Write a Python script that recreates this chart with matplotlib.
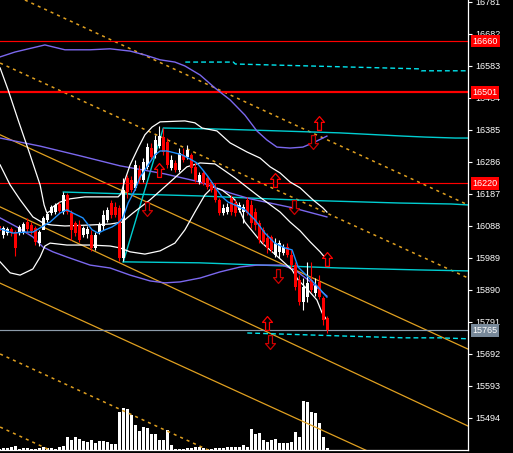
import matplotlib
matplotlib.use("Agg")
import matplotlib.pyplot as plt
from matplotlib.path import Path

plt.rcParams['font.family'] = ['Liberation Sans', 'DejaVu Sans']
plt.rcParams['lines.scale_dashes'] = False

# candles (bar -1 is the half hidden one at the left border)
bars = list(range(-1, 82))
opens = [16088, 16060, 16066, 16079, 16069, 16066, 16069, 16100, 16091, 16082,
         16035, 16076, 16107, 16128, 16131, 16156, 16131, 16184, 16128, 16097,
         16091, 16060, 16063, 16060, 16020, 16069, 16088, 16107, 16159, 16147,
         16144, 15989, 16236, 16230, 16206, 16261, 16230, 16271, 16329, 16308,
         16336, 16363, 16348, 16267, 16283, 16261, 16308, 16301, 16308, 16271,
         16224, 16252, 16236, 16224, 16209, 16168, 16128, 16131, 16175, 16159,
         16138, 16131, 16168, 16153, 16131, 16097, 16076, 16051, 16054, 15998,
         16007, 16004, 16023, 15998, 15967, 15921, 15853, 15868, 15921, 15881,
         15915, 15865, 15803]
closes = [16072, 16082, 16079, 16066, 16020, 16085, 16094, 16079, 16072, 16038,
          16069, 16113, 16125, 16147, 16153, 16134, 16184, 16131, 16076, 16066,
          16045, 16082, 16079, 16020, 16060, 16091, 16122, 16138, 16122, 16122,
          15989, 16199, 16193, 16199, 16277, 16230, 16286, 16332, 16301, 16354,
          16366, 16317, 16277, 16292, 16261, 16314, 16292, 16323, 16267, 16230,
          16246, 16221, 16209, 16199, 16168, 16128, 16144, 16147, 16131, 16128,
          16153, 16147, 16128, 16097, 16091, 16045, 16038, 16020, 16014, 16035,
          16035, 16023, 15998, 15967, 15899, 15853, 15899, 15912, 15890, 15902,
          15868, 15797, 15765]
highs = [16094, 16088, 16085, 16085, 16076, 16091, 16100, 16113, 16100, 16088,
         16076, 16119, 16131, 16153, 16159, 16162, 16193, 16190, 16138, 16103,
         16107, 16088, 16088, 16076, 16069, 16100, 16138, 16147, 16168, 16162,
         16153, 16236, 16246, 16243, 16292, 16277, 16298, 16345, 16345, 16369,
         16397, 16391, 16360, 16308, 16292, 16329, 16329, 16339, 16314, 16283,
         16255, 16261, 16246, 16230, 16221, 16175, 16156, 16159, 16184, 16168,
         16162, 16156, 16178, 16168, 16144, 16107, 16085, 16066, 16060, 16051,
         16045, 16032, 16035, 16014, 15977, 15936, 15927, 15977, 15977, 15927,
         15936, 15871, 15809]
lows = [16066, 16051, 16060, 16057, 15995, 16060, 16063, 16066, 16063, 16029,
        16026, 16085, 16100, 16122, 16125, 16128, 16125, 16125, 16045, 16057,
        16038, 16054, 16051, 16011, 16014, 16063, 16076, 16100, 16113, 16116,
        15980, 15980, 16175, 16193, 16199, 16221, 16224, 16264, 16292, 16298,
        16329, 16308, 16268, 16261, 16255, 16255, 16286, 16295, 16252, 16224,
        16218, 16215, 16202, 16193, 16162, 16122, 16122, 16125, 16122, 16119,
        16131, 16097, 16122, 16082, 16076, 16035, 16032, 16004, 16007, 15992,
        15989, 15998, 15992, 15958, 15890, 15844, 15828, 15853, 15884, 15871,
        15862, 15782, 15757]
volume = [4, 5, 6, 8, 12, 4, 6, 6, 4, 4, 5, 8, 7, 6, 4, 10, 13, 40, 30, 40,
          34, 28, 25, 31, 22, 28, 27, 24, 18, 18, 115, 126, 122, 106, 76, 58,
          70, 65, 49, 47, 31, 31, 60, 16, 4, 4, 2, 5, 5, 10, 10, 6, 4, 4, 6, 6,
          6, 8, 10, 8, 8, 14, 10, 62, 48, 50, 30, 25, 30, 32, 22, 22, 22, 25,
          55, 40, 148, 145, 115, 112, 80, 40, 6]

# fast moving average (blue)
ma_x = [-0.8, 2.4, 5.4, 7.4, 9.2, 11.7, 14.2, 15.9, 17.4, 19.9, 22.2, 23.7, 25.4,
        27.2, 28.7, 29.9, 31.2, 32.9, 34.2, 35.4, 36.7, 37.9, 39.2, 40.9, 42.9,
        44.7, 46.7, 48.4, 49.9, 51.2, 52.9, 54.7, 56.2, 57.9, 60.4, 62.9, 65.4,
        67.9, 70.4, 72.2, 73.7, 76.2, 78.7, 80.9]
ma_y = [16079, 16066, 16069, 16069, 16082, 16100, 16128, 16138, 16128, 16113,
        16076, 16066, 16076, 16085, 16097, 16113, 16159, 16199, 16240, 16261,
        16286, 16308, 16320, 16320, 16314, 16308, 16295, 16283, 16261, 16240,
        16209, 16178, 16162, 16153, 16138, 16107, 16066, 16035, 16020, 16014,
        15961, 15930, 15899, 15868]

# bands, current timeframe (white)
wu_x = [-0.8, 1.2, 3.7, 6.7, 9.2, 10.2, 10.9, 11.7, 12.4, 14.2, 16.7, 20.4,
        28.7, 29.4, 30.4, 31.7, 33.7, 35.4, 37.2, 39.2, 45.4, 47.9, 49.7, 53.4,
        56.7, 60.9, 64.2, 66.7, 69.2, 71.7, 74.2, 77.4, 79.9, 80.9]
wu_y = [16577, 16509, 16416, 16308, 16215, 16153, 16128, 16134, 16147, 16162,
        16172, 16178, 16178, 16187, 16230, 16277, 16329, 16370, 16394, 16410,
        16413, 16407, 16391, 16382, 16345, 16317, 16298, 16271, 16252, 16224,
        16206, 16169, 16144, 16131]
wm_x = [-0.8, 1.7, 4.2, 7.4, 10.4, 12.2, 15.4, 21.7, 26.7, 29.7, 32.4, 36.7,
        40.9, 45.9, 49.2, 52.9, 57.9, 63.4, 69.2, 71.7, 74.2, 76.7, 79.2, 80.9]
wm_y = [16277, 16215, 16169, 16116, 16094, 16091, 16088, 16091, 16094, 16100,
        16128, 16169, 16215, 16271, 16283, 16280, 16237, 16184, 16131, 16100,
        16073, 16039, 16008, 15983]
wl_x = [-0.8, 1.7, 4.2, 7.4, 9.2, 10.4, 11.7, 15.9, 21.7, 26.7, 29.2, 31.7,
        35.4, 39.2, 42.9, 45.4, 47.9, 50.4, 52.4, 54.7, 57.9, 60.4, 64.7, 68.7,
        72.2, 73.7, 76.2, 78.4, 79.7, 80.9]
wl_y = [15977, 15943, 15936, 15955, 15992, 16026, 16035, 16029, 16029, 16026,
        16020, 16008, 16001, 16011, 16035, 16076, 16131, 16184, 16209, 16199,
        16169, 16100, 16035, 15992, 15952, 15921, 15890, 15859, 15819, 15797]

# bands, higher timeframe (purple)
pu_x = [-0.8, 2.9, 10.4, 15.4, 21.7, 26.7, 31.7, 35.4, 39.2, 42.9, 45.4, 49.2,
        52.9, 56.7, 60.4, 63.4, 65.9, 68.4, 71.7, 74.9, 77.4, 80.9]
pu_y = [16611, 16626, 16648, 16633, 16633, 16636, 16629, 16617, 16602, 16595,
        16583, 16555, 16515, 16478, 16431, 16382, 16354, 16332, 16329, 16332,
        16345, 16366]
pm_x = [-0.8, 9.2, 19.2, 29.2, 40.4, 49.2, 56.7, 61.7, 72.4, 80.9]
pm_y = [16360, 16335, 16305, 16274, 16249, 16224, 16190, 16172, 16144, 16116]
pl_x = [-0.8, 3.4, 7.4, 9.9, 12.4, 15.9, 21.7, 26.7, 31.7, 36.7, 40.4, 44.2, 49.2,
        54.2, 59.2, 63.4, 69.7, 72.9, 76.2, 80.9]
pl_y = [16113, 16085, 16054, 16023, 16008, 15992, 15967, 15958, 15936, 15918,
        15912, 15915, 15927, 15946, 15961, 15967, 15967, 15952, 15921, 15871]

# stepped levels (cyan)
c1_x = [30, 40, 53, 69, 84, 100, 105.5, 113, 116.2]
c1_y = [15977, 16391, 16388, 16382, 16376, 16366, 16363, 16360, 16360]
c2_x = [15, 31, 49, 74, 99, 112, 116.2]
c2_y = [16193, 16187, 16181, 16168, 16159, 16156, 16153]
c3_x = [30, 49, 84, 104, 116.2]
c3_y = [15977, 15974, 15958, 15952, 15949]
c4_x = [45.5, 57.5, 58, 104, 104.5, 116.2]
c4_y = [16595, 16595, 16589, 16574, 16568, 16568]
c5_x = [61, 84, 100, 109, 116.2]
c5_y = [15757, 15748, 15742, 15742, 15739]

# channel lines (orange): (x0, y0, x1, y1)
solid_lines = [(-0.8, 16370, 116.2, 15707),
               (-0.8, 16147, 116.2, 15469),
               (-0.8, 15911, 116.2, 15250)]
dotted_lines = [(5.4, 16787, 116.2, 16153),
                (-0.8, 16592, 116.2, 15927),
                (-0.8, 15692, 116.2, 15024),
                (-0.8, 15466, 116.2, 14798)]

levels = [16660, 16501, 16220]
last_price = 15765
price_ticks = [16781, 16682, 16583, 16484, 16385, 16286, 16187, 16088,
               15989, 15890, 15791, 15692, 15593, 15494]

up_x = [39, 79, 68, 81, 66]
up_y = [16261, 16407, 16230, 15986, 15788]
dn_x = [36, 77.4, 72.7, 68.7, 66.7]
dn_y = [16141, 16348, 16147, 15933, 15729]

# ---------------------------------------------------------------
fig = plt.figure(figsize=(5.13, 4.53), dpi=100, facecolor='black')
box = [0, 3 / 453, 468 / 513, 450 / 453]

vax = fig.add_axes([0, 3 / 453, 468 / 513, 50 / 453])
vax.set_facecolor('black')
vax.vlines(bars, 0, volume, color='white', lw=0.76, antialiased=False)
vax.set_xlim(-0.825, 116.175)
vax.set_ylim(0, 150)
vax.axis('off')

ax = fig.add_axes(box)
ax.patch.set_alpha(0)

# channel lines
for x0, y0, x1, y1 in solid_lines:
    ax.plot([x0, x1], [y0, y1], color='#E0A020', lw=0.9)
for x0, y0, x1, y1 in dotted_lines:
    ax.plot([x0, x1], [y0, y1], color='#E0A020', lw=1.1, ls=(0, (2.2, 2.9)))

# horizontal levels
for i, lv in enumerate(levels):
    ax.axhline(lv, color='red', lw=1.6 if i == 1 else 0.85)
ax.axhline(last_price, color='#8C9BAA', lw=0.85)

# cyan levels
for xs, ys in [(c1_x, c1_y), (c2_x, c2_y), (c3_x, c3_y)]:
    ax.plot(xs, ys, color='#00CED1', lw=1.0)
for xs, ys in [(c4_x, c4_y), (c5_x, c5_y)]:
    ax.plot(xs, ys, color='#00E5EE', lw=1.0, ls=(0, (3.5, 2.2)))

# bands
for xs, ys in [(pu_x, pu_y), (pm_x, pm_y), (pl_x, pl_y)]:
    ax.plot(xs, ys, color='#7B68EE', lw=1.0)
for xs, ys in [(wu_x, wu_y), (wm_x, wm_y), (wl_x, wl_y)]:
    ax.plot(xs, ys, color='white', lw=0.9)

# candles
for b, o, h, l, c in zip(bars, opens, highs, lows, closes):
    col = 'white' if c >= o else 'red'
    ax.vlines(b, l, h, color=col, lw=0.8, zorder=4)
    ax.bar(b, max(abs(c - o), 1.5), bottom=min(o, c), width=0.62,
           color=col, linewidth=0, zorder=4)

ax.plot(ma_x, ma_y, color='#1E90FF', lw=1.0, zorder=5)

# arrows
verts = [(-0.14, -0.5), (0.14, -0.5), (0.14, 0.08), (0.36, 0.08), (0, 0.5),
         (-0.36, 0.08), (-0.14, 0.08), (-0.14, -0.5)]
up_arrow = Path(verts, closed=True)
dn_arrow = Path([(x, -y) for x, y in verts], closed=True)
ax.plot(up_x, up_y, ls='none', marker=up_arrow, ms=10, mfc='black',
        mec='red', mew=0.9, zorder=6)
ax.plot(dn_x, dn_y, ls='none', marker=dn_arrow, ms=10, mfc='black',
        mec='#CC0000', mew=0.9, zorder=6)

ax.set_xlim(-0.825, 116.175)
ax.set_ylim(15395, 16787)

for s in ['top', 'left']:
    ax.spines[s].set_visible(False)
for s in ['right', 'bottom']:
    ax.spines[s].set_color('white')
    ax.spines[s].set_linewidth(0.9)

ax.set_xticks([])
ax.yaxis.tick_right()
ax.set_yticks(price_ticks)
ax.set_yticklabels([str(t) for t in price_ticks])
ax.tick_params(axis='y', colors='white', length=3, width=0.8, pad=2,
               labelsize=6.5)

for lv in levels:
    ax.annotate(str(lv), xy=(1, lv), xycoords=('axes fraction', 'data'),
                xytext=(3.2, 0), textcoords='offset points', va='center',
                ha='left', fontsize=6.5, color='white', annotation_clip=False,
                bbox=dict(boxstyle='square,pad=0.2', fc='red', ec='none'),
                zorder=10)
ax.annotate(str(last_price), xy=(1, last_price),
            xycoords=('axes fraction', 'data'), xytext=(3.2, 0),
            textcoords='offset points', va='center', ha='left', fontsize=6.5,
            color='white', annotation_clip=False,
            bbox=dict(boxstyle='square,pad=0.2', fc='#778899', ec='none'),
            zorder=10)

fig.savefig('out.png', dpi=100, facecolor='black')
